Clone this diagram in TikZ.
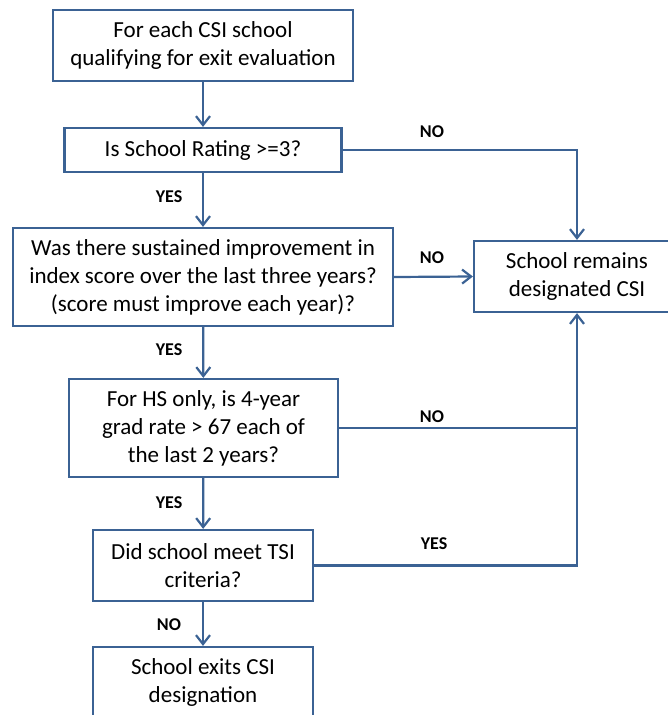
\documentclass[tikz,border=0pt]{standalone}
\usepackage{fontspec}
\setmainfont{Carlito}
\usetikzlibrary{positioning,arrows.meta}
\definecolor{flowblue}{HTML}{3B6294}

\begin{document}
\begin{tikzpicture}[x=1pt, y=-1pt, -{Straight Barb[length=9pt,width=14pt,line width=2.2pt]},
line width=2.2pt, draw=flowblue,
proc/.style={rectangle, draw=flowblue, fill=white, text=black, align=center,
inner sep=0pt, font=\fontsize{23}{28}\selectfont},
answer/.style={text=black, font=\bfseries\fontsize{18}{20}\selectfont}]
  \useasboundingbox (0,0) rectangle (668,715);
  % main column
  \node[proc, minimum width=300, minimum height=71] (start) at (203,45.5)
    {For each CSI school\\qualifying for exit evaluation};
  \node[proc, minimum width=277, minimum height=44] (rating) at (203,150)
    {Is School Rating >=3?};
  \node[proc, minimum width=380, minimum height=98] (improve) at (203,277)
    {Was there sustained improvement in\\index score over the last three years?\\(score must improve each year)?};
  \node[proc, minimum width=269, minimum height=98] (grad) at (203.5,428)
    {For HS only, is 4-year\\grad rate > 67 each of\\the last 2 years?};
  \node[proc, minimum width=220, minimum height=71] (tsi) at (203,565.5)
    {Did school meet TSI\\criteria?};
  \node[proc, minimum width=220, minimum height=71] (exits) at (203,682.5)
    {School exits CSI\\designation};
  % right column
  \node[proc, minimum width=206, minimum height=71] (remains) at (577,276.5)
    {School remains\\designated CSI};
  \coordinate (join) at (remains.south |- grad.east);

  % labels
  \node[answer] (no1) at (432,132) {NO};
  \node[answer] (yes1) at (169,197) {YES};
  \node[answer] (no2) at (432,258) {NO};
  \node[answer] (yes2) at (169,350) {YES};
  \node[answer] (no3) at (432,417) {NO};
  \node[answer] (yes3) at (169,503) {YES};
  \node[answer] (yes4) at (434,544) {YES};
  \node[answer] (no4) at (169,625) {NO};

\foreach \from/\to in {start/rating,rating/improve,improve/grad,grad/tsi,tsi/exits}
    \draw[flowblue] (\from) -- (\to);
  \draw[flowblue] (rating.east) -| (remains.north);
  \draw[flowblue] (improve.east) -- (remains.west);
  \draw[flowblue, -] (grad.east) -- (join);
  \draw[flowblue] (tsi.east) -| (remains.south);
\end{tikzpicture}
\end{document}
